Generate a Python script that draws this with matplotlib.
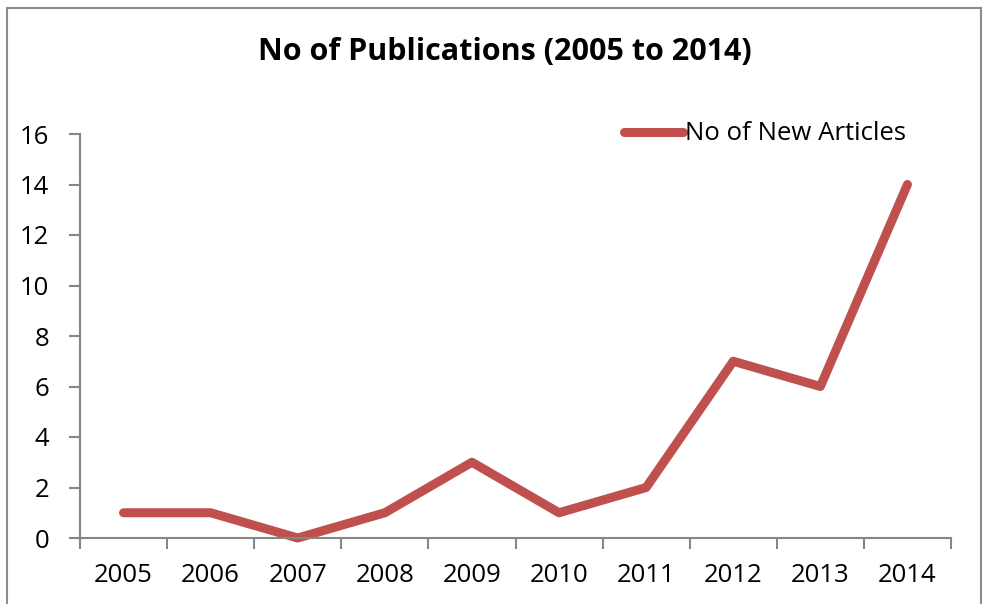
import matplotlib
matplotlib.use('Agg')
import matplotlib.pyplot as plt
from matplotlib.patches import Rectangle
from matplotlib.ticker import FixedLocator, NullFormatter

years = ['2005', '2006', '2007', '2008', '2009', '2010', '2011', '2012', '2013', '2014']
new_articles = [1, 1, 0, 1, 3, 1, 2, 7, 6, 14]

W, H = 991, 604
plt.rcParams['font.family'] = ['Open Sans', 'DejaVu Sans']
LINE_C = '#C0504D'
AXIS_C = '#868686'

fig = plt.figure(figsize=(W / 100, H / 100), dpi=100)
fig.patches.append(Rectangle((7 / W, -0.1), (981 - 7) / W, 1.1 - 8 / H,
                             transform=fig.transFigure, fill=False,
                             edgecolor='#8C8C8C', lw=1.5))

ax = fig.add_axes([80 / W, 1 - 538 / H, (951 - 80) / W, (538 - 134) / H])
x = list(range(len(years)))
ax.plot(x, new_articles, color=LINE_C, lw=6.5, solid_capstyle='round',
        solid_joinstyle='round', label='No of New Articles', clip_on=False)

ax.set_xlim(-0.5, len(years) - 0.5)
ax.set_ylim(0, 16)
ax.set_yticks(range(0, 17, 2))
ax.xaxis.set_major_locator(FixedLocator([i - 0.5 for i in range(len(years) + 1)]))
ax.xaxis.set_major_formatter(NullFormatter())
ax.xaxis.set_minor_locator(FixedLocator(x))
ax.set_xticklabels(years, minor=True)
ax.tick_params(axis='x', which='major', length=8, width=1.5, color=AXIS_C, direction='out')
ax.tick_params(axis='x', which='minor', length=0, pad=18, labelsize=18.5)
ax.tick_params(axis='y', length=8, width=1.5, color=AXIS_C, direction='out', labelsize=18.5, pad=14)

for s in ('top', 'right'):
    ax.spines[s].set_visible(False)
for s in ('left', 'bottom'):
    ax.spines[s].set_color(AXIS_C)
    ax.spines[s].set_linewidth(1.5)

fig.text(505 / W, 1 - 52 / H, 'No of Publications (2005 to 2014)',
         ha='center', va='center', fontsize=22, fontweight='bold')

ax.legend(loc='center left', bbox_to_anchor=(614 / W, 1 - 134 / H),
          bbox_transform=fig.transFigure, frameon=False, fontsize=18.5,
          handlelength=2.3, handletextpad=0.05, borderaxespad=0)

fig.savefig('out.png', dpi=100)
